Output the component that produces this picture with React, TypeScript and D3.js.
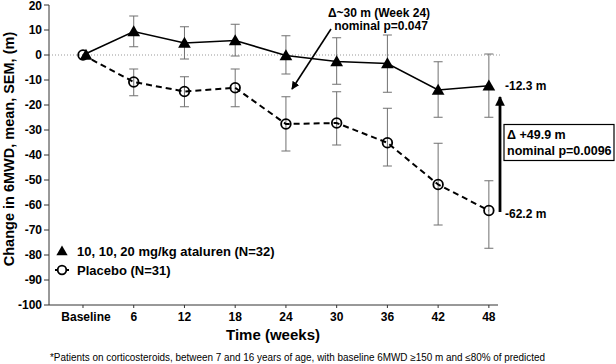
import React from "react"
import { scaleLinear, line, symbol, symbolTriangle } from "d3"

// weeks on the x axis (index positions)
const weeks = ["Baseline", "6", "12", "18", "24", "30", "36", "42", "48"]
const yTicks = [20, 10, 0, -10, -20, -30, -40, -50, -60, -70, -80, -90, -100]

// ataluren 10, 10, 20 mg/kg
const ataMean = [0, 9.4, 4.8, 5.8, -0.2, -2.6, -3.4, -14, -12.3]
const ataHi = [0, 15.6, 11.3, 12.3, 7.7, 6.9, 8, -2.7, 0.4]
const ataLo = [0, 3.3, -1.6, -0.4, -7.6, -11.7, -14.9, -24.9, -24.9]

// placebo
const plaMean = [0, -10.8, -14.6, -13.1, -27.6, -27.2, -35.1, -51.8, -62.2]
const plaHi = [0, -5.6, -8.7, -5.6, -16.7, -14.7, -21.3, -35.3, -50.3]
const plaLo = [0, -16.3, -20.7, -20.7, -38.4, -36, -44.4, -68, -77.3]

const font = "'Liberation Sans', Arial, Helvetica, sans-serif"

export default function App() {
  const x = scaleLinear().domain([-0.67, 8.18]).range([49, 498])
  const y = scaleLinear().domain([-100, 20]).range([305, 5])

  const path = line<number>()
    .x((d, i) => x(i))
    .y(d => y(d))

  const tri = symbol().type(symbolTriangle).size(70)()
  const triSmall = symbol().type(symbolTriangle).size(55)()

  const errorBars = (hi: number[], lo: number[], key: string) =>
    hi.map((h, i) => {
      if (i === 0) return null
      const cx = x(i)
      return (
        <g key={key + i} stroke="#707070" strokeWidth={1}>
          <line x1={cx} x2={cx} y1={y(h)} y2={y(lo[i])} />
          <line x1={cx - 4.5} x2={cx + 4.5} y1={y(h)} y2={y(h)} />
          <line x1={cx - 4.5} x2={cx + 4.5} y1={y(lo[i])} y2={y(lo[i])} />
        </g>
      )
    })

  const last = weeks.length - 1

  return (
    <svg
      width={616}
      height={364}
      style={{ position: "absolute", left: 0, top: 0, background: "#fff" }}
      fontFamily={font}
    >
      <defs>
        <marker id="ah" viewBox="0 0 10 10" refX="9" refY="5" markerWidth="5" markerHeight="5" orient="auto">
          <path d="M0,0 L10,5 L0,10 z" fill="#000" />
        </marker>
        <marker id="ah2" viewBox="0 0 10 10" refX="9" refY="5" markerWidth="3.5" markerHeight="3.5" orient="auto">
          <path d="M0,0 L10,5 L0,10 z" fill="#000" />
        </marker>
      </defs>

      {/* zero reference */}
      <line x1={x(-0.67)} x2={502} y1={y(0)} y2={y(0)} stroke="#999" strokeWidth={1} strokeDasharray="1,2" />

      {/* y axis */}
      <line x1={49} x2={49} y1={y(20)} y2={y(-100)} stroke="#333" strokeWidth={1} />
      {yTicks.map(t => (
        <g key={t}>
          <line x1={44} x2={49} y1={y(t)} y2={y(t)} stroke="#333" />
          <text x={42} y={Math.max(y(t), 6)} dy="0.35em" textAnchor="end" fontSize={12} fontWeight="bold">{t}</text>
        </g>
      ))}
      <text
        transform={`translate(14,149) rotate(-90)`}
        textAnchor="middle"
        fontSize={14.5}
        fontWeight="bold"
      >
        Change in 6MWD, mean, SEM, (m)
      </text>

      {/* x axis */}
      <line x1={49} x2={498} y1={y(-100)} y2={y(-100)} stroke="#333" strokeWidth={1} />
      {weeks.map((w, i) => (
        <g key={w}>
          <line x1={x(i)} x2={x(i)} y1={y(-100)} y2={y(-100) + 3} stroke="#333" />
          <text x={x(i) + (i === 0 ? 3 : 0)} y={y(-100) + 16} textAnchor="middle" fontSize={12} fontWeight="bold">{w}</text>
        </g>
      ))}
      <text x={273} y={340} textAnchor="middle" fontSize={15} fontWeight="bold">Time (weeks)</text>

      {/* error bars */}
      {errorBars(ataHi, ataLo, "a")}
      {errorBars(plaHi, plaLo, "p")}

      {/* series lines */}
      <path d={path(ataMean) || ""} fill="none" stroke="#000" strokeWidth={1.6} />
      <path d={path(plaMean) || ""} fill="none" stroke="#000" strokeWidth={2} strokeDasharray="6,4" />

      {/* markers */}
      {plaMean.map((v, i) => (
        <circle key={"c" + i} cx={x(i)} cy={y(v)} r={4.8} fill="none" stroke="#000" strokeWidth={1.8} />
      ))}
      {ataMean.map((v, i) => (
        <path key={"t" + i} d={tri || ""} transform={`translate(${x(i) + (i === 0 ? 3 : 0)},${y(v) + 1})`} fill="#000" />
      ))}

      {/* week 24 annotation */}
      <text x={379} y={17} textAnchor="middle" fontSize={12} fontWeight="bold">Δ~30 m (Week 24)</text>
      <text x={381} y={30} textAnchor="middle" fontSize={12} fontWeight="bold">nominal p=0.047</text>
      <line x1={331} y1={29} x2={292} y2={89} stroke="#000" strokeWidth={1.6} markerEnd="url(#ah)" />

      {/* week 48 difference */}
      <text x={505} y={y(ataMean[last])} dy="0.35em" fontSize={12} fontWeight="bold">-12.3 m</text>
      <text x={505} y={y(plaMean[last]) + 3} dy="0.35em" fontSize={12} fontWeight="bold">-62.2 m</text>
      <line x1={500} x2={500} y1={212} y2={97} stroke="#000" strokeWidth={2.8} markerEnd="url(#ah2)" />
      <rect x={504} y={124.5} width={110} height={36} fill="#fff" stroke="#000" strokeWidth={1.2} />
      <text x={507} y={139} fontSize={12.5} fontWeight="bold">Δ +49.9 m</text>
      <text x={507} y={155} fontSize={12.5} fontWeight="bold">nominal p=0.0096</text>

      {/* legend */}
      <path d={triSmall || ""} transform="translate(62,252)" fill="#000" />
      <text x={77} y={251} dy="0.35em" fontSize={13} fontWeight="bold">10, 10, 20 mg/kg ataluren  (N=32)</text>
      <circle cx={62} cy={270} r={4.3} fill="none" stroke="#000" strokeWidth={1.8} />
      <line x1={55} x2={69} y1={270} y2={270} stroke="#000" strokeWidth={1.8} strokeDasharray="3,8" />
      <text x={77} y={270} dy="0.35em" fontSize={13} fontWeight="bold">Placebo (N=31)</text>

      {/* footnote */}
      <text x={50} y={361} fontSize={10} textLength={495} lengthAdjust="spacingAndGlyphs">
        *Patients on corticosteroids, between 7 and 16 years of age, with baseline 6MWD ≥150 m and ≤80% of predicted
      </text>
    </svg>
  )
}
